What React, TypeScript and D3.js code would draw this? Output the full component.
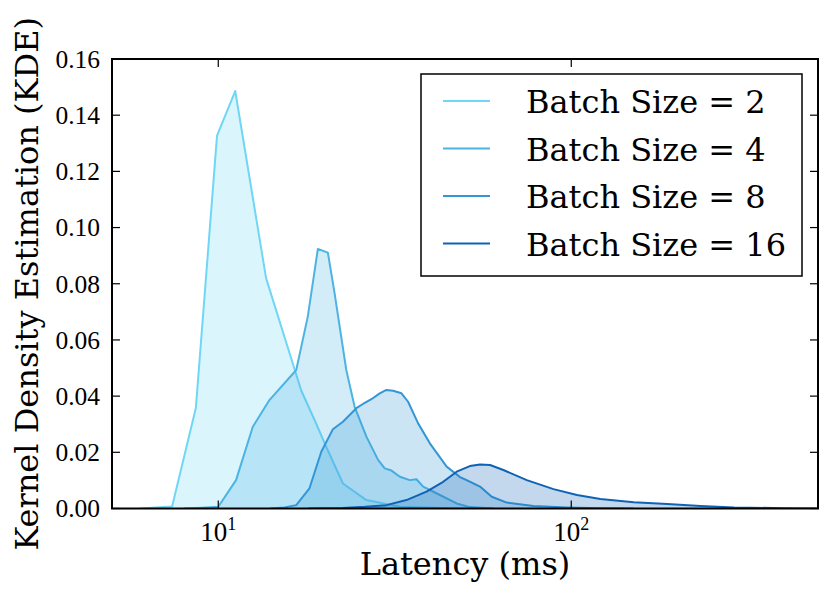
import * as d3 from "d3";
import React from "react";

// KDE curves (latency ms, density)
const batch2: [number, number][] = [
  [6.0, 0], [7.4, 0.0007], [8.64, 0.0358], [9.92, 0.1327], [11.17, 0.1486],
  [13.66, 0.082], [17.18, 0.042], [18.74, 0.0315], [20.2, 0.0221],
  [22.55, 0.0089], [26.28, 0.003], [32.7, 0.0006], [45, 0.0001], [60, 0],
];
const batch4: [number, number][] = [
  [8.0, 0], [9.0, 0.0003], [10.0, 0.0006], [11.23, 0.0101], [12.52, 0.029],
  [13.96, 0.0386], [16.63, 0.0493], [17.93, 0.0683], [19.15, 0.0924],
  [20.44, 0.0911], [21.36, 0.0766], [23.05, 0.0493], [24.34, 0.0362],
  [26.28, 0.0256], [28.36, 0.0173], [29.62, 0.0143], [30.95, 0.0135],
  [32.7, 0.0113], [34.87, 0.0101], [36.43, 0.0104], [38.06, 0.0078],
  [42.45, 0.0048], [47.35, 0.0018], [51.6, 0.0005], [60, 0],
];
const batch8: [number, number][] = [
  [14.0, 0], [15.4, 0.0004], [16.63, 0.0012], [18.13, 0.0072], [19.58, 0.0202],
  [21.12, 0.0282], [22.55, 0.0309], [24.61, 0.0357], [25.7, 0.0372],
  [27.15, 0.0389], [28.67, 0.041], [29.95, 0.0422], [31.28, 0.0419],
  [33.04, 0.041], [34.5, 0.038], [36.83, 0.0303], [39.76, 0.0232],
  [44.36, 0.0149], [48.38, 0.0112], [50.54, 0.0101], [55.14, 0.0078],
  [59.53, 0.0042], [65.67, 0.0021], [78.15, 0.0009], [97.2, 0.0004],
  [120.9, 0.0001], [150, 0],
];
const batch16: [number, number][] = [
  [18, 0], [22.5, 0.0002], [26, 0.0006], [29.95, 0.0012], [34.13, 0.003],
  [38.9, 0.006], [43.37, 0.0095], [47.35, 0.0131], [51.6, 0.0151],
  [55.14, 0.0157], [58.88, 0.0155], [64.22, 0.0137], [74.82, 0.0101],
  [89.06, 0.0069], [103.8, 0.0048], [120.9, 0.0034], [150.3, 0.0022],
  [187.1, 0.0016], [232.6, 0.0009], [289, 0.0004], [401.5, 0.0001], [500, 0],
];

const seriesNames = ["Batch Size = 2", "Batch Size = 4", "Batch Size = 8", "Batch Size = 16"];
const seriesData = [batch2, batch4, batch8, batch16];
const colors = ["#70d6f5", "#4cb3e3", "#3596d6", "#0f63b5"];

const yTicks = [0, 0.02, 0.04, 0.06, 0.08, 0.1, 0.12, 0.14, 0.16];
const xTicks = [10, 100];

const W = 831, H = 598;
const left = 112, right = 818, top = 59, bottom = 508.5;

export default function App() {
  const x = d3.scaleLog().domain([5, 500]).range([left, right]);
  const y = d3.scaleLinear().domain([0, 0.16]).range([bottom, top]);

  const area = d3.area<[number, number]>()
    .x(d => x(d[0]))
    .y0(y(0))
    .y1(d => y(d[1]));
  const line = d3.line<[number, number]>()
    .x(d => x(d[0]))
    .y(d => y(d[1]));

  const tickLen = 8;
  const mathFont = "'Liberation Serif', serif";
  const textFont = "'DejaVu Serif', serif";

  return (
    <svg width={W} height={H} style={{ position: "absolute", left: 0, top: 0, background: "#fff" }}>
      <defs>
        <clipPath id="plot">
          <rect x={left} y={top} width={right - left} height={bottom - top} />
        </clipPath>
      </defs>

      <g clipPath="url(#plot)">
        {seriesData.map((s, i) => (
          <g key={i}>
            <path d={area(s) || ""} fill={colors[i]} fillOpacity={0.25} stroke="none" />
            <path d={line(s) || ""} fill="none" stroke={colors[i]} strokeWidth={2} strokeLinejoin="round" />
          </g>
        ))}
      </g>

      {/* ticks, inward on all four sides */}
      {yTicks.map(t => (
        <g key={"y" + t}>
          <line x1={left} x2={left + tickLen} y1={y(t)} y2={y(t)} stroke="#000" strokeWidth={1.2} />
          <line x1={right} x2={right - tickLen} y1={y(t)} y2={y(t)} stroke="#000" strokeWidth={1.2} />
          <text x={left - 12} y={y(t)} dy="0.35em" textAnchor="end" fontFamily={mathFont} fontSize={25.5}>
            {t.toFixed(2)}
          </text>
        </g>
      ))}
      {xTicks.map(t => (
        <g key={"x" + t}>
          <line x1={x(t)} x2={x(t)} y1={bottom} y2={bottom - tickLen} stroke="#000" strokeWidth={1.2} />
          <line x1={x(t)} x2={x(t)} y1={top} y2={top + tickLen} stroke="#000" strokeWidth={1.2} />
          <text x={x(t)} y={541} textAnchor="middle" fontFamily={mathFont} fontSize={27}>
            10<tspan fontSize={18} dy={-11}>{Math.round(Math.log10(t))}</tspan>
          </text>
        </g>
      ))}

      <rect x={left} y={top} width={right - left} height={bottom - top} fill="none" stroke="#000" strokeWidth={2} />

      <text x={(left + right) / 2} y={575} textAnchor="middle" fontFamily={textFont} fontSize={32}>
        Latency (ms)
      </text>
      <text transform={`translate(38,${(top + bottom) / 2}) rotate(-90)`} textAnchor="middle"
        fontFamily={textFont} fontSize={32}>
        Kernel Density Estimation (KDE)
      </text>

      {/* legend */}
      <rect x={421} y={74} width={381} height={202} fill="#fff" stroke="#000" strokeWidth={1.5} />
      {seriesNames.map((n, i) => {
        const cy = 101 + i * 47.5;
        return (
          <g key={n}>
            <line x1={443} x2={490} y1={cy} y2={cy} stroke={colors[i]} strokeWidth={2} />
            <text x={526} y={cy + 12} fontFamily={textFont} fontSize={32}>{n}</text>
          </g>
        );
      })}
    </svg>
  );
}
